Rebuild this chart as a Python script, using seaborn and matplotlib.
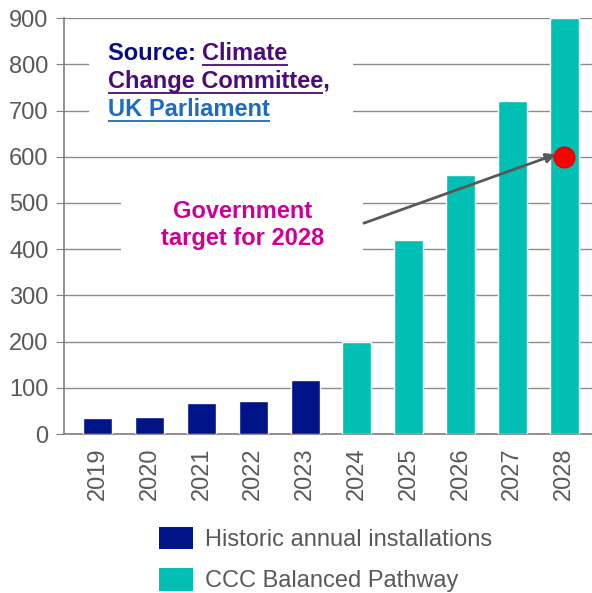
import matplotlib
matplotlib.use("Agg")
import matplotlib.pyplot as plt
import seaborn as sns
import pandas as pd
from matplotlib.patches import Patch

years = ["2019", "2020", "2021", "2022", "2023", "2024", "2025", "2026", "2027", "2028"]
values = [35, 37, 67, 72, 116, 200, 420, 560, 720, 900]
series = ["Historic annual installations"] * 5 + ["CCC Balanced Pathway"] * 5
series_names = ["Historic annual installations", "CCC Balanced Pathway"]
colors = ["#001489", "#00BFB3"]
target_year = "2028"
target_value = 600
yticks = [0, 100, 200, 300, 400, 500, 600, 700, 800, 900]

sns.set_style("white")
plt.rcParams["font.family"] = ["Liberation Sans", "DejaVu Sans"]

df = pd.DataFrame({"year": years, "value": values, "series": series})

fig = plt.figure(figsize=(5.92, 5.93), dpi=100)
ax = fig.add_axes([0.108, 0.268, 0.892, 0.7015])

sns.barplot(data=df, x="year", y="value", hue="series", hue_order=series_names,
            palette=colors, dodge=False, width=0.56, ax=ax, legend=False,
            saturation=1, zorder=3)

ax.set_ylim(0, 900)
ax.set_xlim(-0.656, 9.54)
ax.set_yticks(yticks)
ax.yaxis.grid(True, color="#8c8c8c", linewidth=1.0, zorder=0)
ax.set_axisbelow(True)
ax.set_xlabel("")
ax.set_ylabel("")
for s in ["top", "right"]:
    ax.spines[s].set_visible(False)
for s in ["left", "bottom"]:
    ax.spines[s].set_color("#7f7f7f")
    ax.spines[s].set_linewidth(1.2)
FS = 17
ax.tick_params(axis="y", which="both", left=True, length=6, color="#7f7f7f",
               labelsize=FS, labelcolor="#595959", pad=5)
ax.tick_params(axis="x", bottom=False, labelsize=FS, labelcolor="#595959",
               labelrotation=90, pad=6)

# Source text box
ax.add_patch(plt.Rectangle((0.047, 0.735), 0.5, 0.255, transform=ax.transAxes,
                           facecolor="white", edgecolor="none", zorder=1))
src_kw = dict(transform=ax.transAxes, fontsize=FS, fontweight="bold", va="baseline", zorder=6)
t0 = ax.text(0.083, 0.899, "Source: ", color="#0a0a80", **src_kw)
fig.canvas.draw()
r = fig.canvas.get_renderer()
inv = ax.transAxes.inverted()
bb0 = t0.get_window_extent(r)
x_after = inv.transform((bb0.x1, bb0.y0))[0]
t1 = ax.text(x_after, 0.899, "Climate", color="#4b0c7a", **src_kw)
t2 = ax.text(0.083, 0.832, "Change Committee,", color="#4b0c7a", **src_kw)
t3 = ax.text(0.083, 0.764, "UK Parliament", color="#1a6cc4", **src_kw)
fig.canvas.draw()


def underline(t, y, c, trim=0.0):
    bb = t.get_window_extent(r)
    x0 = inv.transform((bb.x0, bb.y0))[0]
    x1 = inv.transform((bb.x1, bb.y0))[0] - trim
    ax.plot([x0, x1], [y - 0.012, y - 0.012], transform=ax.transAxes, color=c,
            lw=1.3, zorder=5, solid_capstyle="butt")


underline(t1, 0.899, "#4b0c7a")
underline(t2, 0.832, "#4b0c7a", trim=0.012)
underline(t3, 0.764, "#1a6cc4")

# Government target annotation
ax.add_patch(plt.Rectangle((0.108, 0.42), 0.458, 0.18, transform=ax.transAxes,
                           facecolor="white", edgecolor="none", zorder=1))
ax.text(0.339, 0.503, "Government\ntarget for 2028", transform=ax.transAxes,
        ha="center", va="center", fontsize=FS, fontweight="bold",
        color="#cc0099", linespacing=1.25, zorder=6)
xi = years.index(target_year)
ax.annotate("", xy=(xi - 0.16, target_value + 5), xytext=(0.568, 0.507),
            textcoords=ax.transAxes,
            arrowprops=dict(arrowstyle="-|>", color="#595959", lw=2,
                            mutation_scale=14, shrinkA=0, shrinkB=0), zorder=6)
ax.scatter([xi], [target_value], s=220, color="#ff0000", edgecolor="#e00000",
           zorder=7, clip_on=False)

handles = [Patch(facecolor=c, edgecolor="none") for c in colors]
fig.legend(handles, series_names, loc="upper left", bbox_to_anchor=(0.2686, 0.112),
           frameon=False, fontsize=FS, handlelength=1.44, handleheight=1.1,
           handletextpad=0.5, labelspacing=0.72, labelcolor="#595959",
           borderaxespad=0, borderpad=0)

fig.savefig("out.png", dpi=100)
